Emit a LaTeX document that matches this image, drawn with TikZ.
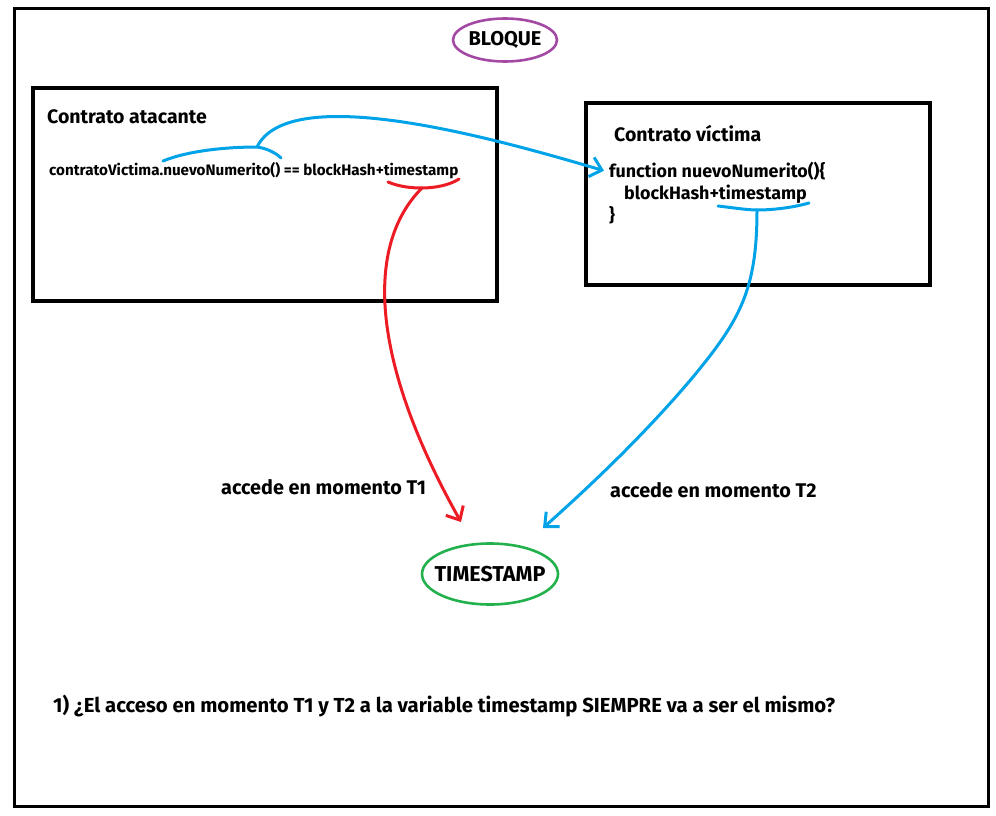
\documentclass[tikz,border=0pt]{standalone}
\usepackage{fontspec}
\setmainfont{Fira Sans}
\usetikzlibrary{arrows.meta,shapes.geometric,positioning}

\definecolor{azul}{RGB}{0,162,232}
\definecolor{rojo}{RGB}{237,28,36}
\definecolor{verde}{RGB}{34,177,76}
\definecolor{morado}{RGB}{163,73,164}

\tikzset{
  caja/.style={draw=black, line width=3.2pt},
  titulo/.style={anchor=base west, inner sep=0pt, font=\bfseries\fontsize{19.5}{22}\selectfont},
  codigo/.style={anchor=base west, inner sep=0pt, font=\bfseries\fontsize{15.2}{17}\selectfont},
  codigob/.style={anchor=base west, inner sep=0pt, font=\bfseries\fontsize{17.9}{20}\selectfont},
  etiqueta/.style={anchor=base west, inner sep=0pt, font=\bfseries\fontsize{19.8}{22}\selectfont},
  burbuja/.style={line width=2.6pt},
  trazo/.style={line width=3pt, line cap=round, line join=round},
  flecha/.style={trazo, -{Straight Barb[length=11pt,width=20pt]}}
}

\begin{document}
\begin{tikzpicture}[x=1pt,y=-1pt]
  \useasboundingbox (0,0) rectangle (996,816);
  \draw[black, line width=3pt] (14,9) rectangle (988,806);

  \node[inner sep=0pt, font=\bfseries\fontsize{20}{22}\selectfont] (bloque) at (505,40) {BLOQUE};
  \draw[burbuja, morado] (bloque.center) ellipse [x radius=52, y radius=21.5];

  % contrato atacante
  \draw[caja] (33,88) rectangle (497,301);
  \node[titulo] (atacante) at (47,123.5) {Contrato atacante};
  \node[codigo] (llamada) at (49,175) {contratoVictima.nuevoNumerito() == blockHash+timestamp};

  % contrato victima
  \draw[caja] (586,103) rectangle (930,285);
  \node[titulo] (victima) at (614,141) {Contrato víctima};
  \node[codigob] (funcion) at (609,177) {function nuevoNumerito()\{};
  \node[codigob] (suma) at (624,199) {blockHash+timestamp};
  \node[codigob] (cierre) at (609,221) {\}};

  \node[inner sep=0pt, font=\bfseries\fontsize{21.5}{24}\selectfont] (timestamp) at (490,574) {TIMESTAMP};
  \draw[burbuja, verde] (timestamp.center) ellipse [x radius=68, y radius=30.5];

  \node[etiqueta] (t1) at (221,494) {accede en momento T1};
  \node[etiqueta] (t2) at (610,497) {accede en momento T2};

  \node[etiqueta, font=\bfseries\fontsize{20.3}{23}\selectfont] (pregunta) at (53,712)
    {1) ¿El acceso en momento T1 y T2 a la variable timestamp SIEMPRE va a ser el mismo?};

  % marcas a mano
  \coordinate (llamadaA) at (257,147);
  \coordinate (sumaA) at (422,188);
  \coordinate (sumaB) at (757,210);
  \coordinate (puntaT1) at (461,522);
  \coordinate (puntaT2) at (543,528);

  \draw[trazo, azul] (163,161) .. controls (190,150) and (230,147) .. (llamadaA)
    .. controls (265,148) and (275,152) .. (281,158);
  \draw[flecha, azul] (llamadaA) .. controls (290,80) and (500,140) .. ([xshift=-5pt]funcion.west);

  \draw[trazo, rojo] (388,182) .. controls (400,187) and (412,188) .. (sumaA)
    .. controls (435,188) and (450,185) .. (459,179);
  \draw[flecha, rojo] (sumaA) .. controls (365,245) and (370,360) .. (puntaT1);

  \draw[trazo, azul] (718,206) .. controls (735,208) and (748,210) .. (sumaB)
    .. controls (775,210) and (795,207) .. (809,203);
  \draw[flecha, azul] (sumaB) .. controls (757,290) and (740,320) .. (693,377)
    .. controls (640,440) and (580,495) .. (puntaT2);
\end{tikzpicture}
\end{document}
